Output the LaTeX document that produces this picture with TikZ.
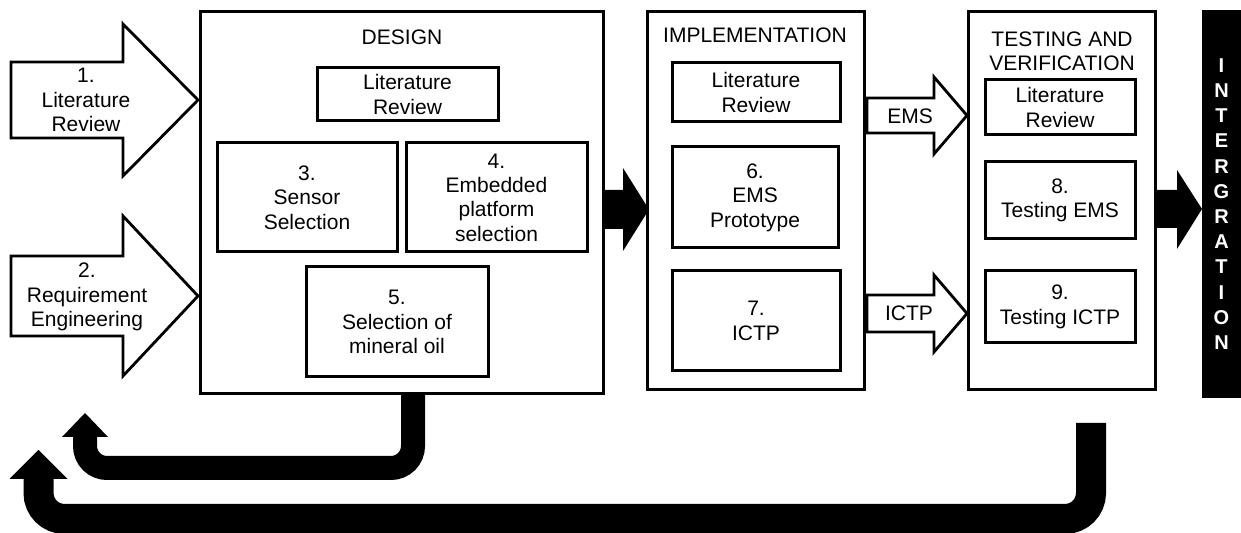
\documentclass[tikz,border=0pt]{standalone}
\usepackage{fontspec}
\setmainfont{Liberation Sans}
\usepackage{tikz}

\begin{document}
\begin{tikzpicture}[x=0.5pt, y=-0.5pt, every node/.style={font=\fontsize{10.5}{12.2}\selectfont, align=center, inner sep=0pt}]
\tikzset{phase/.style={draw, line width=1.5pt}}
\tikzset{task/.style={draw, line width=1.5pt}}
\tikzset{hollow/.style={draw, line width=1.4pt, fill=white, line join=miter}}
\tikzset{intbar/.style={fill=black, text=white, font=\bfseries\fontsize{10}{12.6}\selectfont}}

\useasboundingbox (0,0) rectangle (1241,533);

% Phases
\node[phase, minimum width=201.5pt, minimum height=191pt] (design) at (401.5,203) {};
\node[phase, minimum width=108.5pt, minimum height=189pt] (impl) at (755.5,201) {};
\node[phase, minimum width=93.5pt, minimum height=189pt] (test) at (1061.5,201) {};
\node[intbar, minimum width=19.5pt, minimum height=194pt] (integ) at (1221.5,204) {I\\N\\T\\E\\R\\G\\R\\A\\T\\I\\O\\N};

\node[anchor=base] (designtitle) at (402,45) {DESIGN};
\node[anchor=base] (impltitle) at (755,43) {IMPLEMENTATION};
\node (testtitle) at (1062,51) {TESTING AND\\VERIFICATION};

% Design
\node[task, minimum width=90.5pt, minimum height=26.5pt] (dlit) at (407.5,94.5) {Literature\\Review};
\node[task, minimum width=90pt, minimum height=54.5pt] (sensor) at (307,197.5) {3.\\Sensor\\Selection};
\node[task, minimum width=90.5pt, minimum height=54.5pt] (embedded) at (496.5,197.5) {4.\\Embedded\\platform\\selection};
\node[task, minimum width=91pt, minimum height=55pt] (oil) at (397,322) {5.\\Selection of\\mineral oil};

% Implementation
\node[task, minimum width=84pt, minimum height=29.5pt] (ilit) at (756,92.5) {Literature\\Review};
\node[task, minimum width=83pt, minimum height=50.5pt] (ems) at (755,197.5) {6.\\EMS\\Prototype};
\node[task, minimum width=84pt, minimum height=50pt] (ictp) at (756,321) {7.\\ICTP};

% Testing and verification
\node[task, minimum width=75pt, minimum height=27.5pt] (tlit) at (1060,107.5) {Literature\\Review};
\node[task, minimum width=75pt, minimum height=38.5pt] (tems) at (1060,200.5) {8.\\Testing EMS};
\node[task, minimum width=75pt, minimum height=36pt] (tictp) at (1060,307) {9.\\Testing ICTP};

% Inputs
\draw[hollow] (11,62) -- (123,62) -- (123,24) -- (198,100) -- (123,176) -- (123,138) -- (11,138) -- cycle;
\node (litin) at (86,100) {1.\\Literature\\Review};
\draw[hollow] (11,256) -- (123,256) -- (123,216) -- (198,296) -- (123,376) -- (123,336) -- (11,336) -- cycle;
\node (reqin) at (87,297) {2.\\Requirement\\Engineering};

\draw[hollow] (867,98) -- (934,98) -- (934,77) -- (967,115.5) -- (934,154) -- (934,133) -- (867,133) -- cycle;
\node (emsin) at (910,116) {EMS};
\draw[hollow] (867,295) -- (934,295) -- (934,275) -- (967,313.5) -- (934,352) -- (934,332) -- (867,332) -- cycle;
\node (ictpin) at (909,313) {ICTP};

% Flow between phases
\fill (603,190) -- (623,190) -- (623,168) -- (649,209.5) -- (623,251) -- (623,229) -- (603,229) -- cycle;
\fill (1155,190) -- (1177,190) -- (1177,170) -- (1202,209) -- (1177,249) -- (1177,228) -- (1155,228) -- cycle;

% Feedback
\coordinate (dback) at (413,394);
\coordinate (dturn) at (413,468);
\coordinate (dend) at (85,436);
\draw[line width=12pt, rounded corners=11pt] (dback) -- (dturn) -- (dend |- dturn) -- (dend);
\fill (62,437) -- (108,437) -- (85,413) -- cycle;

\coordinate (tback) at (1091,423);
\coordinate (tturn) at (1091,519);
\coordinate (tend) at (38.5,478);
\draw[line width=15pt, rounded corners=13pt] (tback) -- (tturn) -- (tend |- tturn) -- (tend);
\fill (9.5,479) -- (67.5,479) -- (38.5,450) -- cycle;
\end{tikzpicture}
\end{document}
